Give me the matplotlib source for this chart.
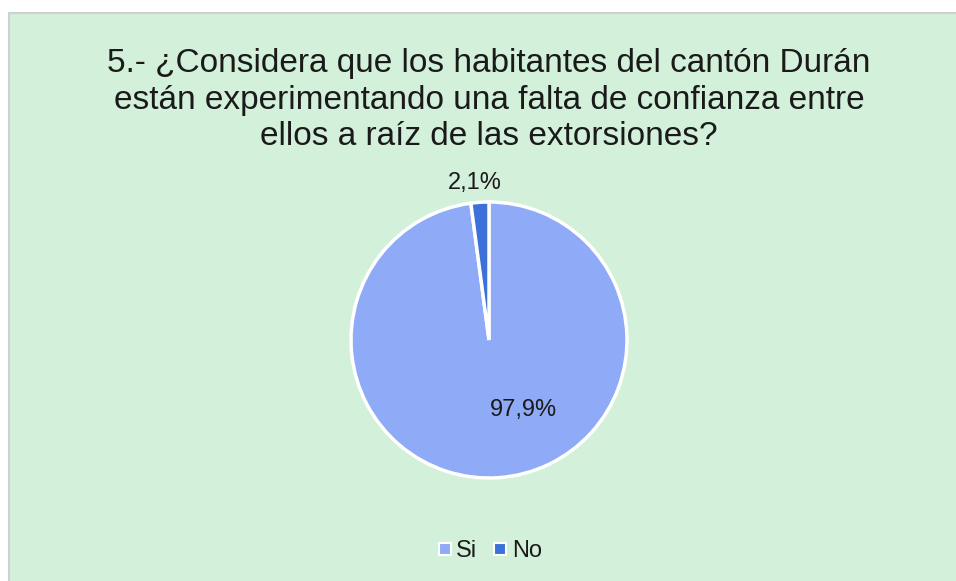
import matplotlib
import matplotlib.pyplot as plt
from matplotlib.lines import Line2D
from matplotlib.patches import Rectangle

matplotlib.rc('font', family=['Liberation Sans', 'DejaVu Sans'])

labels = ['Si', 'No']
values = [97.9, 2.1]
value_text = ['97,9%', '2,1%']
colors = ['#8faaf6', '#3b71d8']
title = ('5.- ¿Considera que los habitantes del cantón Durán\n'
         'están experimentando una falta de confianza entre\n'
         'ellos a raíz de las extorsiones?')

W, H = 956, 581
fig = plt.figure(figsize=(W / 100, H / 100), dpi=100)
fig.patch.set_facecolor('white')

# chart area background with grey border
fig.patches.append(Rectangle((9 / W, -0.01), 1.0, 1 - 13 / H + 0.01, transform=fig.transFigure,
                             facecolor='#d3f0da', edgecolor='#d0d0d0', linewidth=1.5, zorder=-5))

fig.text(489 / W, 1 - 100 / H, title, ha='center', va='center', fontsize=24,
         linespacing=1.21, color='#1a1a1a')

cx, cy, r = 489, 340, 138
ax = fig.add_axes([(cx - r) / W, (H - cy - r) / H, 2 * r / W, 2 * r / H])
ax.pie(values, colors=colors, startangle=90, counterclock=False,
       wedgeprops=dict(edgecolor='white', linewidth=2.5))
ax.set_xlim(-1, 1)
ax.set_ylim(-1, 1)
ax.axis('off')

ax.text(0.25, -0.51, value_text[0], ha='center', va='center', fontsize=17, color='#1a1a1a')
ax.text(-0.10, 1.14, value_text[1], ha='center', va='center', fontsize=17, color='#1a1a1a')

handles = [Line2D([], [], linestyle='none', marker='s', markersize=9,
                  markerfacecolor=c, markeredgecolor='white', markeredgewidth=1.5)
           for c in colors]
fig.legend(handles, labels, loc='center', bbox_to_anchor=(489 / W, 1 - 551 / H), ncol=2,
           frameon=False, fontsize=17, handlelength=0.7, handletextpad=0.15,
           columnspacing=0.6, labelcolor='#1a1a1a')

fig.savefig('out.png', dpi=100)
